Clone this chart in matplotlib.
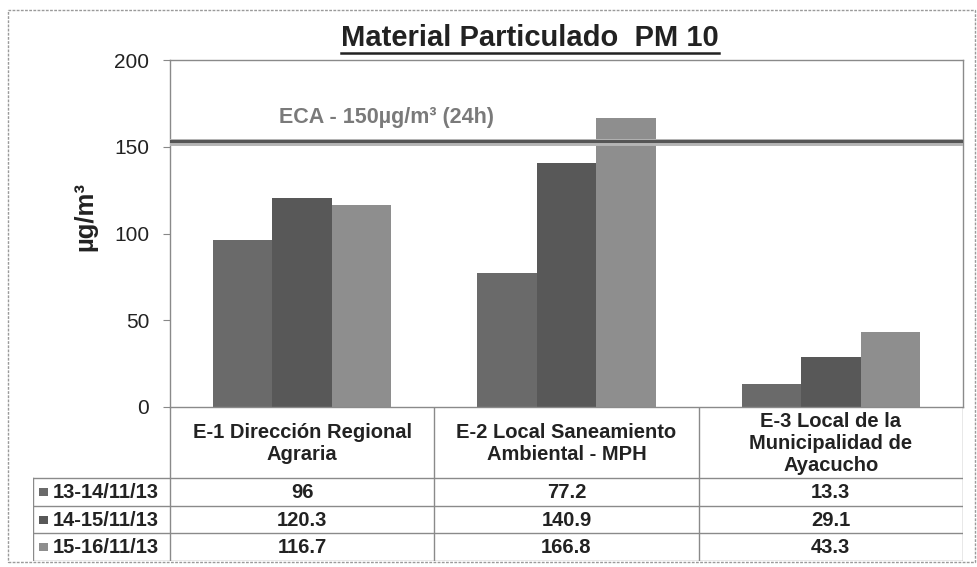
import numpy as np
import matplotlib.pyplot as plt
from matplotlib.patches import Rectangle
from matplotlib.lines import Line2D

plt.rcParams['font.family'] = ['Liberation Sans', 'DejaVu Sans']

# ---------------- data ----------------
categories = ["E-1 Dirección Regional\nAgraria",
              "E-2 Local Saneamiento\nAmbiental - MPH",
              "E-3 Local de la\nMunicipalidad de\nAyacucho"]
series_names = ["13-14/11/13", "14-15/11/13", "15-16/11/13"]
values = [
    [96, 77.2, 13.3],
    [120.3, 140.9, 29.1],
    [116.7, 166.8, 43.3],
]
value_labels = [["96", "77.2", "13.3"],
                ["120.3", "140.9", "29.1"],
                ["116.7", "166.8", "43.3"]]
eca_level = 153          # drawn a little above 150 as in the scan
eca_text = "ECA - 150µg/m³ (24h)"
colors = ["#6a6a6a", "#585858", "#8e8e8e"]
yticks = [0, 50, 100, 150, 200]

# ---------------- layout (pixels) ----------------
W, H = 978, 567
fig = plt.figure(figsize=(W / 100, H / 100), dpi=100)

ax_l, ax_r, ax_t, ax_b = 170, 963, 60, 407
ax = fig.add_axes([ax_l / W, (H - ax_b) / H, (ax_r - ax_l) / W, (ax_b - ax_t) / H])

x = np.arange(len(categories))
bw = 0.225
for i, vals in enumerate(values):
    ax.bar(x + (i - 1) * bw, vals, width=bw, color=colors[i], edgecolor='none', zorder=2)

ax.set_xlim(-0.5, 2.5)
ax.set_ylim(0, 200)
ax.set_yticks(yticks)
ax.set_xticks([])
ax.tick_params(axis='y', direction='out', length=5, color='#888888',
               labelsize=15, labelcolor='#222222', pad=10)
for s in ax.spines.values():
    s.set_color('#8a8a8a')
    s.set_linewidth(1.0)
ax.set_ylabel("µg/m³", fontsize=18.5, fontweight='bold', color='#222222')
ax.yaxis.set_label_coords(-0.092, 0.55)

# ECA line
ax.axhline(eca_level - 0.5, color='#b5b5b5', lw=5, zorder=3)
ax.axhline(eca_level + 0.4, color='#555555', lw=2.2, zorder=4)
ax.text(0.32, 167, eca_text, ha='center', va='center', fontsize=15.5,
        fontweight='bold', color='#7a7a7a')

# ---------------- table ----------------
tb_l, tb_b = 33, 561
tax = fig.add_axes([tb_l / W, (H - tb_b) / H, (ax_r - tb_l) / W, (tb_b - ax_b) / H])
px_per_unit = (ax_r - ax_l) / 3.0
x_left = -0.5 - (ax_l - tb_l) / px_per_unit
tax.set_xlim(x_left, 2.5)
tax.set_ylim(tb_b - ax_b, 0)
tax.axis('off')

hdr = 71
row_h = (tb_b - ax_b - hdr) / 3.0
lc = '#8a8a8a'
# vertical lines
for b in [-0.5, 0.5, 1.5, 2.5]:
    tax.add_line(Line2D([b, b], [0, tb_b - ax_b], color=lc, lw=1.0))
tax.add_line(Line2D([x_left, x_left], [hdr, tb_b - ax_b], color=lc, lw=1.0))
# horizontal lines
for k in range(4):
    yy = hdr + k * row_h
    tax.add_line(Line2D([x_left, 2.5], [yy, yy], color=lc, lw=1.0))

for j, cat in enumerate(categories):
    tax.text(j, hdr / 2 + 1, cat, ha='center', va='center', fontsize=14.5,
             fontweight='bold', color='#222222', linespacing=1.2)

for i, name in enumerate(series_names):
    yc = hdr + (i + 0.5) * row_h
    tax.add_patch(Rectangle((x_left + 6 / px_per_unit, yc - 4), 9 / px_per_unit, 8,
                            color=colors[i], lw=0))
    tax.text(x_left + 20 / px_per_unit, yc + 0.5, name, ha='left', va='center',
             fontsize=14.5, fontweight='bold', color='#222222')
    for j in range(len(categories)):
        tax.text(j, yc + 0.5, value_labels[i][j], ha='center', va='center',
                 fontsize=14.5, fontweight='bold', color='#222222')

# outer frame
fig.add_artist(Rectangle((8 / W, 5 / H), (975 - 8) / W, (562 - 10) / H,
                         transform=fig.transFigure, fill=False,
                         edgecolor='#9a9a9a', lw=1.0, ls=(0, (2, 1))))

# title with underline
title = fig.text(530 / W, 1 - 38 / H, "Material Particulado  PM 10", ha='center',
                 va='center', fontsize=21, fontweight='bold', color='#222222')
fig.canvas.draw()
bb = title.get_window_extent().transformed(fig.transFigure.inverted())
fig.add_artist(Line2D([bb.x0, bb.x1], [bb.y0 - 0.001, bb.y0 - 0.001],
                      transform=fig.transFigure, color='#222222', lw=1.8))

fig.savefig("out.png", dpi=100)
